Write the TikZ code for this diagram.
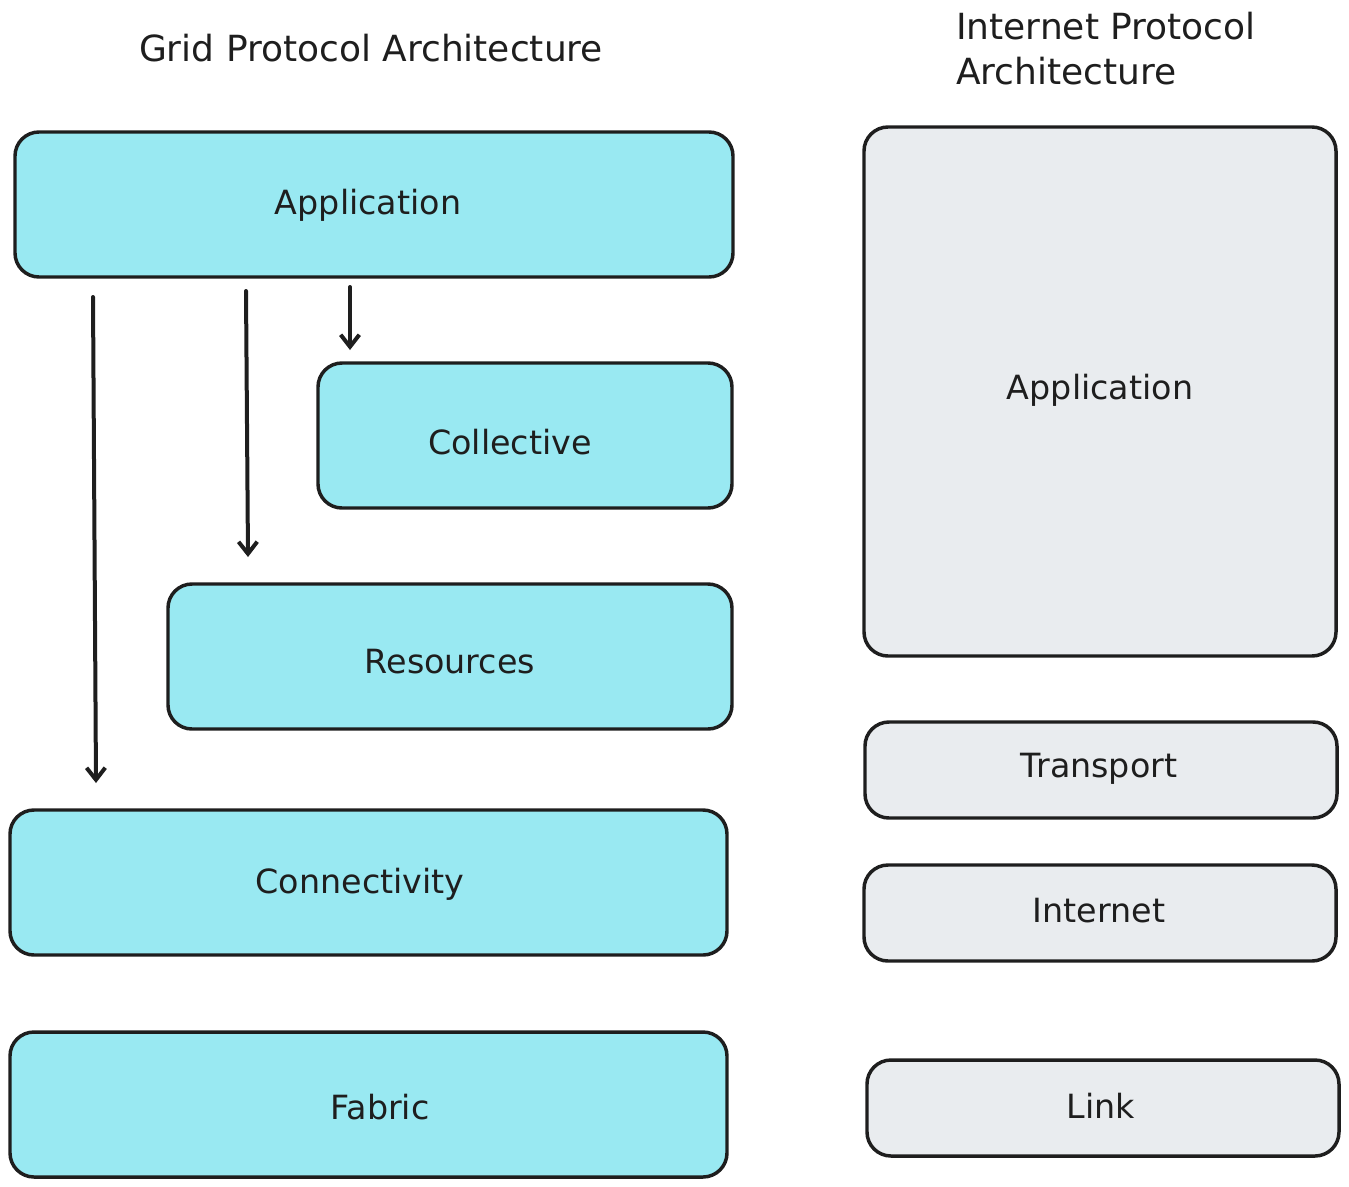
\documentclass[tikz,border=0pt]{standalone}
\usepackage{fontspec}
\setmainfont{DejaVu Sans}
\usetikzlibrary{arrows.meta}
\definecolor{cyanfill}{HTML}{99E9F2}
\definecolor{grayfill}{HTML}{E9ECEF}
\definecolor{ink}{HTML}{1E1E1E}
\begin{document}
\begin{tikzpicture}[x=0.75pt,y=-0.75pt,
  layer/.style={draw=ink,line width=2.6pt,rounded corners=18pt},
  gridbox/.style={layer,fill=cyanfill},
  ipbox/.style={layer,fill=grayfill},
  lbl/.style={font=\fontsize{25}{30}\selectfont,text=ink},
  ttl/.style={font=\fontsize{27}{34}\selectfont,text=ink},
  flow/.style={draw=ink,line width=3pt,line cap=round,-{Straight Barb[length=9pt,width=14pt,line width=3pt]}}]
\useasboundingbox (0,0) rectangle (1349,1186);
% Grid
\draw[gridbox] (15,132) rectangle (733,277);
\node[lbl] (gapp) at (368,205) {Application};
\draw[gridbox] (318,363) rectangle (732,508);
\node[lbl] (coll) at (510,442) {Collective};
\draw[gridbox] (168,584) rectangle (732,729);
\node[lbl] (res) at (450,662) {Resources};
\draw[gridbox] (10,810) rectangle (727,955);
\node[lbl] (conn) at (360,884) {Connectivity};
\draw[gridbox] (10,1032) rectangle (727,1177);
\node[lbl] (fab) at (380,1107) {Fabric};
% IP
\draw[ipbox] (864,127) rectangle (1336,656);
\node[lbl] (iapp) at (1100,390) {Application};
\draw[ipbox] (865,722) rectangle (1337,818);
\node[lbl] (trans) at (1099,769) {Transport};
\draw[ipbox] (864,865) rectangle (1336,961);
\node[lbl] (inet) at (1099,911) {Internet};
\draw[ipbox] (867,1060) rectangle (1339,1156);
\node[lbl] (link) at (1101,1106) {Link};
% titles
\node[ttl] (gt) at (371,48) {Grid Protocol Architecture};
\node[ttl,align=left,anchor=north west,inner sep=0pt] (it) at (956,12) {Internet Protocol\\Architecture};
% arrows
\coordinate (a1s) at (93,297); \coordinate (a1e) at (96,783);
\coordinate (a2s) at (246,291); \coordinate (a2e) at (248,557);
\coordinate (a3s) at (350,287); \coordinate (a3e) at (350,350);
\draw[flow] (a1s) -- (a1e);
\draw[flow] (a2s) -- (a2e);
\draw[flow] (a3s) -- (a3e);
\end{tikzpicture}
\end{document}
